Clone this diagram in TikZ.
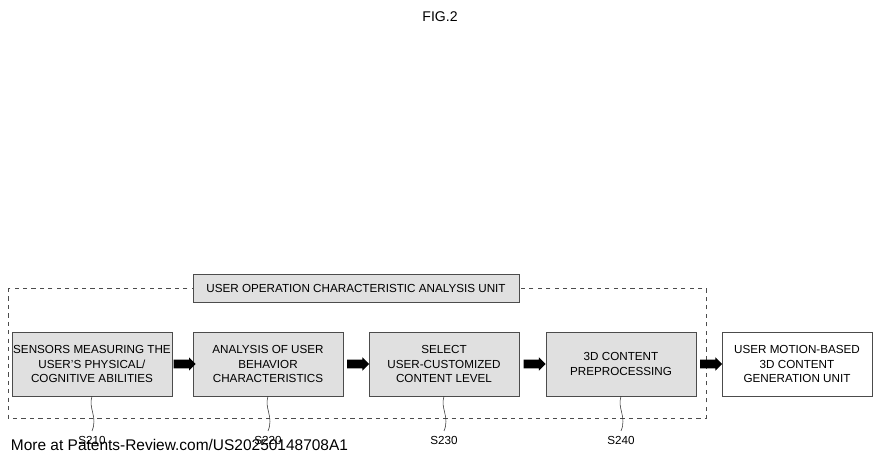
\documentclass[tikz,border=0pt]{standalone}
\usepackage{fontspec}
\setmainfont{Liberation Sans}
\usetikzlibrary{positioning,shapes.arrows,calc}

\begin{document}
\begin{tikzpicture}[x=0.025cm,y=-0.025cm,
    stepbox/.style={draw=black!70, fill=black!12, minimum width=3.75cm, minimum height=1.6cm,
        align=center, font=\fontsize{8.3}{10}\selectfont, inner sep=1pt},
    outbox/.style={stepbox, fill=white},
    flowarrow/.style={single arrow, fill=black, minimum height=0.55cm, inner sep=0.1cm,
        single arrow head extend=0.06cm, single arrow head indent=0pt},
    leader/.style={draw=black!80, thin}]
    \useasboundingbox (0,0) rectangle (880,462);
    \node[font=\fontsize{10}{12}\selectfont] (fig) at (440,17) {FIG.2};

    % Analysis unit frame
    \draw[dashed, black!70] (8,288) rectangle (706,418);
    \node[draw=black!70, fill=black!12, minimum width=8.15cm, minimum height=0.7cm,
        font=\fontsize{8.3}{10}\selectfont] (unit) at (356,288) {USER OPERATION CHARACTERISTIC ANALYSIS UNIT};

    % Steps
    \node[stepbox] (sense) at (92,364) {SENSORS MEASURING THE\\USER'S PHYSICAL/\\COGNITIVE ABILITIES};
    \node[stepbox] (behav) at (268,364) {ANALYSIS OF USER\\BEHAVIOR\\CHARACTERISTICS};
    \node[stepbox] (level) at (444,364) {SELECT\\USER-CUSTOMIZED\\CONTENT LEVEL};
    \node[stepbox] (prep) at (621,364) {3D CONTENT\\PREPROCESSING};
    \node[outbox] (gen) at (797,364) {USER MOTION-BASED\\3D CONTENT\\GENERATION UNIT};

    \foreach \a/\b in {sense/behav, behav/level, level/prep, prep/gen}
        \node[flowarrow] at ($(\a.east)!0.5!(\b.west)$) {};

    % Reference labels
    \foreach \n/\s/\x in {sense/S210/92, behav/S220/268, level/S230/444, prep/S240/621} {
        \node[font=\fontsize{8.3}{10}\selectfont] (l\s) at (\x,440) {\s};
        \draw[leader] (\n.south) .. controls ($(\n.south)+(-4,12)$) and ($(l\s.north)+(6,-14)$) .. (l\s.north);
    }

    \node[anchor=west, font=\fontsize{11}{13}\selectfont] (src) at (6,445) {More at Patents-Review.com/US20250148708A1};
\end{tikzpicture}
\end{document}
